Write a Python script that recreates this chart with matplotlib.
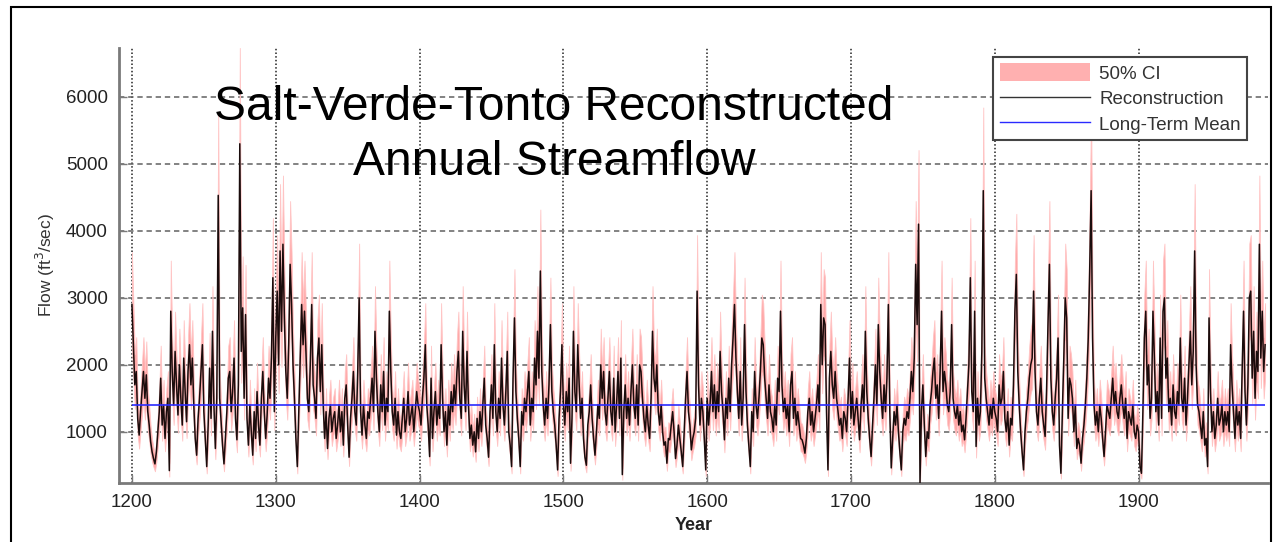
import numpy as np
import matplotlib.pyplot as plt
from matplotlib.patches import Rectangle, Patch
from matplotlib.lines import Line2D

plt.rcParams['font.family'] = ['Liberation Sans', 'DejaVu Sans']

# reconstructed annual flow (ft3/sec), one list per century
flow_1200s = [
    2900, 2300, 1700, 1900, 1200, 950, 1300, 1600, 1900, 1500,
    1850, 1300, 1100, 850, 700, 600, 520, 700, 1000, 1300,
    1800, 1100, 1400, 900, 1300, 1500, 420, 2800, 1900, 1400,
    2200, 1700, 1250, 2000, 1500, 1100, 2100, 1600, 1150, 1900,
    2300, 1700, 2100, 1400, 900, 650, 1200, 1500, 1900, 2300,
    1300, 900, 480, 1100, 1950, 1200, 2500, 1400, 750, 1500,
    4530, 1500, 1150, 800, 520, 900, 1300, 1800, 1900, 1300,
    1600, 2100, 1200, 880, 1700, 5300, 2200, 2850, 1500, 2750,
    1200, 800, 1400, 1000, 650, 1300, 900, 1600, 1100, 800,
    1500, 1900, 1300, 900, 1250, 1800, 1500, 2100, 3300, 1300,
]
flow_1300s = [
    2400, 3100, 2000, 3700, 2500, 3800, 2700, 1900, 1500, 2300,
    3500, 2900, 2000, 1500, 900, 480, 1300, 2100, 2900, 2300,
    2800, 2200, 1500, 1300, 2000, 2900, 1700, 1500, 1200, 2100,
    2400, 1600, 2300, 1400, 900, 1300, 750, 1200, 1400, 1000,
    1200, 1300, 900, 1100, 1400, 1000, 1300, 800, 1500, 1700,
    1100, 620, 1200, 1500, 1900, 1300, 1100, 1900, 3000, 1300,
    950, 1400, 1100, 900, 1300, 1200, 1500, 1800, 1300, 2500,
    1800, 1300, 1000, 1700, 1300, 1900, 1100, 1500, 1300, 2800,
    1900, 1300, 1100, 1500, 950, 1300, 1000, 900, 1200, 1500,
    1000, 1200, 1600, 1100, 1250, 1400, 1000, 1300, 1600, 1400,
]
flow_1400s = [
    1300, 1100, 1500, 1800, 2300, 1400, 1100, 630, 1800, 900,
    1300, 1600, 1100, 1400, 1200, 2300, 1500, 1000, 1300, 800,
    1400, 1100, 1600, 1300, 1700, 1400, 1900, 2200, 1500, 1200,
    2500, 1700, 1300, 2200, 1400, 900, 1100, 800, 1000, 700,
    1200, 900, 1300, 1000, 1400, 1800, 1100, 900, 620, 1300,
    1700, 1200, 2300, 1300, 1000, 1500, 1200, 2100, 1400, 1100,
    1600, 2200, 1000, 800, 480, 1800, 2700, 1600, 1200, 900,
    480, 1300, 1100, 1500, 1300, 1600, 1900, 1100, 1500, 1300,
    2100, 1700, 2500, 1800, 3400, 1900, 1400, 1100, 1500, 1200,
    1700, 2600, 1600, 1300, 1100, 800, 430, 1200, 1600, 2300,
]
flow_1500s = [
    1400, 1100, 1600, 1300, 1800, 530, 1200, 2500, 1600, 1300,
    2300, 1700, 1200, 1500, 900, 620, 500, 1100, 1300, 1700,
    1200, 900, 650, 1000, 1400, 1200, 2000, 1500, 1900, 1300,
    1100, 1500, 1900, 1300, 1100, 1800, 1000, 1400, 1900, 1200,
    2100, 360, 1300, 1700, 1200, 1500, 1100, 1600, 2000, 1400,
    1200, 1700, 1100, 2000, 1900, 1500, 1200, 1000, 1400, 1100,
    900, 1500, 2500, 1800, 1600, 2000, 1300, 1100, 1400, 1000,
    800, 850, 530, 900, 880, 1100, 1300, 1000, 600, 800,
    1100, 900, 700, 480, 1000, 1500, 1900, 1300, 1100, 730,
    900, 1000, 1200, 3100, 1700, 1100, 1500, 1300, 900, 430,
]
flow_1600s = [
    1500, 1100, 1400, 1900, 1300, 1700, 1200, 1600, 1300, 2200,
    1600, 1300, 880, 1500, 1200, 1800, 1300, 2000, 2400, 2900,
    2100, 1600, 1200, 1900, 1100, 1500, 2600, 1600, 1100, 800,
    480, 1300, 1000, 1900, 1400, 1200, 1500, 1900, 2400, 2300,
    1800, 1500, 1200, 1700, 1300, 1200, 1000, 1400, 1100, 1800,
    1600, 2800, 1700, 1300, 1500, 1200, 1400, 1000, 1700, 1900,
    1200, 1500, 1100, 1300, 1100, 900, 880, 800, 680, 900,
    1300, 1500, 1100, 1300, 1000, 1200, 1400, 1700, 1300, 2900,
    2000, 2700, 2600, 1300, 430, 1800, 2200, 1700, 1500, 1900,
    1500, 1300, 1100, 1200, 900, 1300, 1200, 1000, 1500, 2100,
]
flow_1700s = [
    1200, 1600, 1100, 1300, 1500, 1200, 880, 1400, 1700, 1300,
    2500, 1600, 1200, 900, 630, 1100, 1500, 2000, 1400, 2600,
    1900, 1500, 1200, 1700, 1300, 1800, 2900, 1300, 460, 900,
    1300, 1100, 1400, 1000, 700, 430, 1000, 1200, 1100, 1300,
    1200, 1500, 1900, 1600, 2100, 3500, 2600, 4100, 230, 1300,
    1700, 1100, 630, 1000, 900, 1400, 1600, 1900, 2100, 1500,
    1700, 1200, 1900, 2800, 1600, 1900, 1700, 1400, 1300, 1600,
    2600, 1500, 1300, 1200, 1400, 1100, 1300, 1000, 1100, 880,
    1200, 1600, 2000, 3300, 1600, 1300, 2800, 780, 1500, 1100,
    1300, 2200, 4600, 1800, 1500, 1300, 1100, 1400, 1200, 1500,
]
flow_1800s = [
    1300, 1200, 1000, 1700, 1400, 1500, 1900, 1200, 1000, 1300,
    800, 1200, 1100, 1700, 2800, 3350, 1900, 1400, 1000, 700,
    430, 1000, 1300, 1500, 1800, 2000, 2100, 3100, 1900, 1300,
    1100, 1500, 1800, 1300, 1100, 930, 1600, 2600, 3500, 1800,
    1300, 1100, 1500, 1800, 2400, 800, 380, 1300, 2100, 3000,
    2700, 1200, 1800, 1700, 1500, 1000, 1400, 750, 900, 800,
    530, 900, 1100, 1400, 1800, 2400, 3400, 4600, 2400, 1400,
    1100, 1300, 1000, 1400, 1200, 900, 630, 1000, 1400, 1300,
    1200, 1500, 1800, 1400, 1600, 1300, 1200, 1500, 1700, 1400,
    1200, 1500, 900, 1300, 1200, 1100, 1400, 1000, 900, 1100,
]
flow_1900s = [
    1000, 480, 380, 1300, 2400, 2800, 1700, 2000, 1200, 1500,
    2800, 2100, 1300, 1600, 1100, 2400, 1200, 2800, 3000, 1800,
    2100, 1300, 1500, 1100, 1700, 1300, 1200, 1600, 1400, 2400,
    1500, 1300, 1800, 1100, 1500, 2000, 2500, 1700, 2200, 3700,
    2000, 1400, 1300, 1100, 900, 1300, 800, 900, 480, 2700,
    1600, 1000, 1300, 900, 1100, 1500, 1100, 1200, 1400, 1000,
    1300, 1100, 1300, 1000, 2300, 1700, 1300, 900, 1400, 1100,
    1300, 900, 1900, 2800, 1600, 1100, 1700, 3000, 3100, 1800,
    2500, 1500, 2200, 1900, 3800, 2100, 2800, 1900, 2300,
]

first_year = 1200
long_term_mean = 1405   # blue line
ci_factor = 1.27        # 50% CI band width (multiplicative), read at the peaks

flow = np.array(flow_1200s + flow_1300s + flow_1400s + flow_1500s + flow_1600s
                + flow_1700s + flow_1800s + flow_1900s, dtype=float)
years = np.arange(first_year, first_year + len(flow))
ci_lo = flow / ci_factor
ci_hi = flow * ci_factor

W, H = 1274, 542
fig = plt.figure(figsize=(W / 100, H / 100), dpi=100)
ax = fig.add_axes([119 / W, 1 - 483 / H, 1149 / W, 435 / H])

ax.fill_between(years, ci_lo, ci_hi, color='#ffa8a8', lw=0.6, edgecolor='#ffc4c4', zorder=2)
ax.plot(years, flow, color='#1a0c0c', lw=1.1, zorder=3)
ax.hlines(long_term_mean, years[0], years[-1], color='#2a2aff', lw=1.2, zorder=4)

ax.set_xlim(1191, 1990)
ax.set_ylim(235, 6730)
ax.set_xticks(np.arange(1200, 2000, 100))
ax.set_yticks(np.arange(1000, 7000, 1000))

# grid: dotted verticals, dashed horizontals
for xt in ax.get_xticks():
    ax.axvline(xt, color='#222222', lw=1.1, ls=(0, (1, 1.4)), zorder=1)
for yt in ax.get_yticks():
    ax.axhline(yt, color='#606060', lw=1.1, ls=(0, (3.5, 2.5)), zorder=1)

for s in ['top', 'right']:
    ax.spines[s].set_visible(False)
for s in ['left', 'bottom']:
    ax.spines[s].set_color('#7a7a7a')
    ax.spines[s].set_linewidth(2)
ax.tick_params(direction='in', length=6, width=1, colors='#7a7a7a',
               labelcolor='#222222', labelsize=13.5, pad=8)

ax.set_xlabel('Year', fontsize=13, fontweight='bold', color='#222222', labelpad=4)
fig.text(45 / W, 1 - 265 / H, 'Flow (ft$^3$/sec)', rotation=90, ha='center',
         va='center', fontsize=12.5, color='#333333')

handles = [Patch(facecolor='#ffb0b0', edgecolor='none'),
           Line2D([], [], color='#333333', lw=1),
           Line2D([], [], color='#2a2aff', lw=1)]
leg = ax.legend(handles, ['50% CI', 'Reconstruction', 'Long-Term Mean'],
                loc='upper right', bbox_to_anchor=(0.982, 0.98), fontsize=13.5,
                fancybox=False, framealpha=1, edgecolor='#444444',
                handlelength=4.8, handleheight=1.1, handletextpad=0.5,
                borderpad=0.35, labelspacing=0.33, borderaxespad=0)
leg.get_frame().set_linewidth(1.5)
for t in leg.get_texts():
    t.set_color('#333333')

fig.text(554 / W, 1 - 135 / H, 'Salt-Verde-Tonto Reconstructed\nAnnual Streamflow',
         ha='center', va='center', fontsize=34.5, color='black', linespacing=1.3)

fig.add_artist(Rectangle((11 / W, -0.05), 1260 / W, 1.05 - 7 / H, fill=False,
                         edgecolor='black', lw=1.5, transform=fig.transFigure))

fig.savefig('out.png', dpi=100)
